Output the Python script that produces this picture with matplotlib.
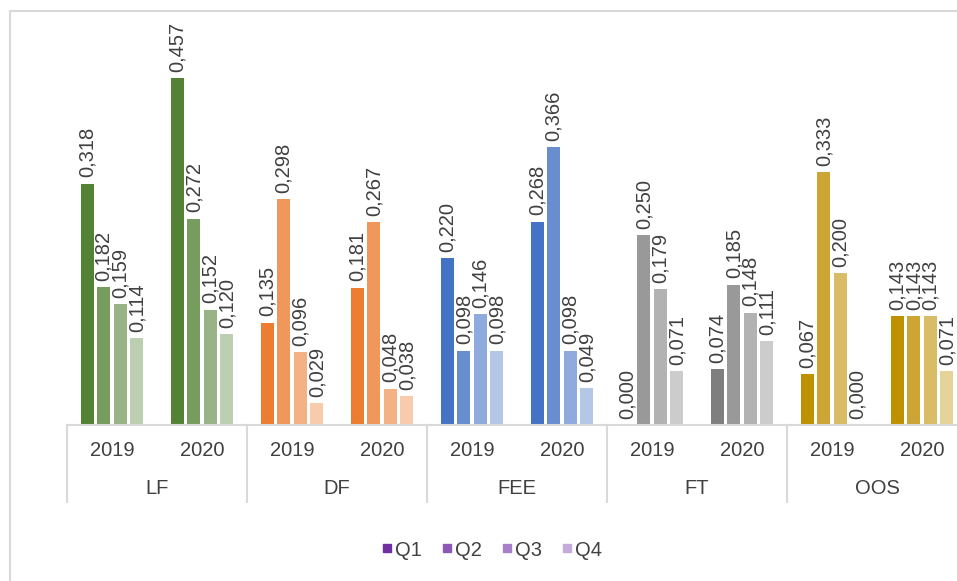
import matplotlib
matplotlib.use('Agg')
import matplotlib.pyplot as plt
from matplotlib.lines import Line2D
import numpy as np

plt.rcParams['font.family'] = ['Liberation Sans', 'DejaVu Sans']

# 数据
categories = ['LF', 'DF', 'FEE', 'FT', 'OOS']
years = ['2019', '2020']
quarters = ['Q1', 'Q2', 'Q3', 'Q4']

lf_2019 = [0.318, 0.182, 0.159, 0.114]
lf_2020 = [0.457, 0.272, 0.152, 0.120]
df_2019 = [0.135, 0.298, 0.096, 0.029]
df_2020 = [0.181, 0.267, 0.048, 0.038]
fee_2019 = [0.220, 0.098, 0.146, 0.098]
fee_2020 = [0.268, 0.366, 0.098, 0.049]
ft_2019 = [0.000, 0.250, 0.179, 0.071]
ft_2020 = [0.074, 0.185, 0.148, 0.111]
oos_2019 = [0.067, 0.333, 0.200, 0.000]
oos_2020 = [0.143, 0.143, 0.143, 0.071]

values = [
    [lf_2019, lf_2020],
    [df_2019, df_2020],
    [fee_2019, fee_2020],
    [ft_2019, ft_2020],
    [oos_2019, oos_2020],
]

# 每个类别的 Q1..Q4 颜色
bar_colors = [
    ['#548235', '#779D5E', '#98B486', '#BCCFB0'],
    ['#ED7D31', '#F0975C', '#F4B183', '#F8CBAD'],
    ['#4472C4', '#698ED0', '#8FAADC', '#B4C7E7'],
    ['#7F7F7F', '#999999', '#B2B2B2', '#CCCCCC'],
    ['#BF9000', '#CCA534', '#D9BD66', '#E5D399'],
]
legend_colors = ['#7030A0', '#8C5AB4', '#A880C8', '#C5AADC']

text_color = '#404040'
line_color = '#D9D9D9'

W, H = 957, 581
fig = plt.figure(figsize=(W / 100, H / 100), dpi=100)

# 图表边框
fig.add_artist(Line2D([9.5 / W, 9.5 / W], [0, 1 - 10.5 / H], color=line_color, lw=1.5))
fig.add_artist(Line2D([9.5 / W, 1], [1 - 10.5 / H, 1 - 10.5 / H], color=line_color, lw=1.5))

left_px, base_px = 67, 425
px_per_unit = 759
ymax = 0.55
ax_h_px = ymax * px_per_unit
ax = fig.add_axes([left_px / W, (H - base_px) / H, 900 / W, ax_h_px / H])

slot = 90.0
bw = 13 / slot
step = 16.5 / slot
offsets = (np.arange(4) - 1.5) * step

for ci, cat in enumerate(categories):
    for yi, yr in enumerate(years):
        center = ci * 2 + yi + 0.5
        for qi in range(4):
            v = values[ci][yi][qi]
            x = center + offsets[qi]
            ax.bar(x, v, width=bw, color=bar_colors[ci][qi], linewidth=0)
            ax.annotate(f'{v:.3f}'.replace('.', ','), (x, v), xytext=(0, 4.5),
                        textcoords='offset points', rotation=90,
                        ha='center', va='bottom', fontsize=14.5,
                        color=text_color, annotation_clip=False)

ax.set_xlim(0, 10)
ax.set_ylim(0, ymax)
ax.axis('off')

# 分类轴
trans = ax.get_xaxis_transform()


def fy(px):
    return -px / ax_h_px


ax.plot([0, 10], [0, 0], transform=trans, color=line_color, lw=1.5, clip_on=False)
for ci in range(len(categories) + 1):
    ax.plot([ci * 2, ci * 2], [0, fy(77)], transform=trans, color=line_color,
            lw=1.5, clip_on=False)
for ci, cat in enumerate(categories):
    for yi, yr in enumerate(years):
        ax.text(ci * 2 + yi + 0.5, fy(25), yr, transform=trans, ha='center',
                va='center', fontsize=14.5, color=text_color, clip_on=False)
    ax.text(ci * 2 + 1, fy(64), cat, transform=trans, ha='center',
            va='center', fontsize=14.5, color=text_color, clip_on=False)

# 图例
handles = [Line2D([], [], marker='s', linestyle='none', markersize=6,
                  markerfacecolor=c, markeredgecolor=c) for c in legend_colors]
fig.legend(handles, quarters, loc='center', bbox_to_anchor=(492 / W, 1 - 550 / H),
           ncol=4, frameon=False, fontsize=14.5, handlelength=0.5,
           handletextpad=0.15, columnspacing=1.0, labelcolor=text_color)

fig.savefig('out.png', dpi=100)
